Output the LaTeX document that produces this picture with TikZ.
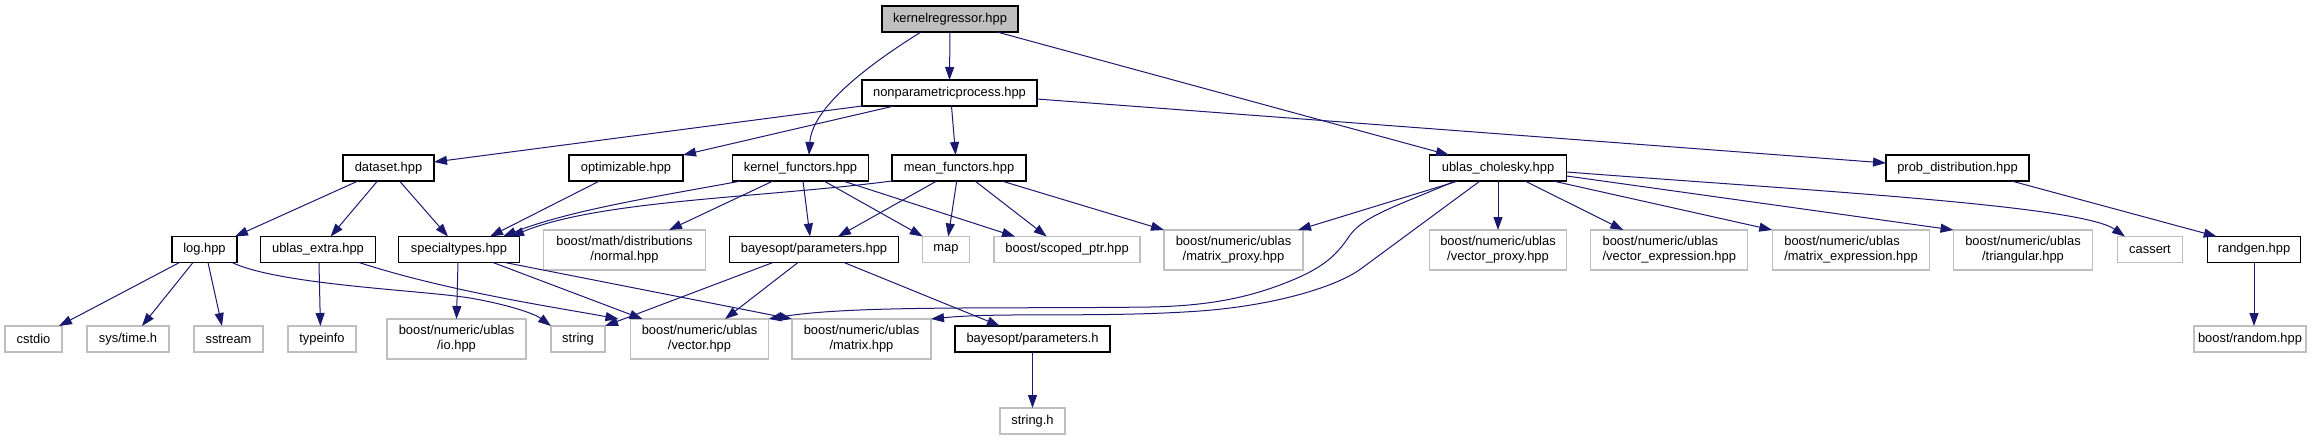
\documentclass[tikz,border=0pt]{standalone}
\usepackage{fontspec}
\setmainfont{Liberation Sans}
\usetikzlibrary{arrows.meta}
\definecolor{edgeblue}{HTML}{191970}
\definecolor{sysgray}{HTML}{BFBFBF}
\begin{document}
\begin{tikzpicture}[x=1pt,y=-1pt,
  font=\fontsize{12.9}{15}\selectfont,
  box/.style={line width=1.15pt, inner sep=0pt, outer sep=0pt, align=center, fill=white, minimum height=26pt},
  doc/.style={box, draw=black},
  sys/.style={box, draw=sysgray},
  root/.style={box, draw=black, fill=sysgray},
  two/.style={minimum height=40pt},
  edge/.style={draw=edgeblue, line width=1pt, -{Triangle[length=13pt,width=9pt]}}]
\useasboundingbox (0,0) rectangle (2323,440);
% row 0-1
\node[root, minimum width=136pt] (kr) at (950,19) {kernelregressor.hpp};
\node[doc, minimum width=175pt] (np) at (949.5,93) {nonparametricprocess.hpp};
% row 2
\node[doc, minimum width=91pt] (dataset) at (388.5,168) {dataset.hpp};
\node[doc, minimum width=114pt] (optim) at (626,168) {optimizable.hpp};
\node[doc, minimum width=135.5pt] (kf) at (800.5,168) {kernel\_functors.hpp};
\node[doc, minimum width=134pt] (mf) at (959,168) {mean\_functors.hpp};
\node[doc, minimum width=137.5pt] (chol) at (1498,168) {ublas\_cholesky.hpp};
\node[doc, minimum width=143pt] (prob) at (1957.5,168) {prob\_distribution.hpp};
% row 3
\node[doc, minimum width=65pt] (log) at (204.5,249.5) {log.hpp};
\node[doc, minimum width=114.5pt] (uext) at (318,249.5) {ublas\_extra.hpp};
\node[doc, minimum width=120.5pt] (spec) at (459,249.5) {specialtypes.hpp};
\node[sys, two, minimum width=162pt] (normal) at (624.5,250) {boost/math/distributions\\/normal.hpp};
\node[doc, minimum width=169pt] (bparam) at (814,249.5) {bayesopt/parameters.hpp};
\node[sys, minimum width=46.5pt] (map) at (946,249.5) {map};
\node[sys, minimum width=146pt] (scoped) at (1067,249.5) {boost/scoped\_ptr.hpp};
\node[sys, two, minimum width=139pt] (mproxy) at (1233.5,250) {boost/numeric/ublas\\/matrix\_proxy.hpp};
\node[sys, two, minimum width=137.5pt] (vproxy) at (1498,250) {boost/numeric/ublas\\/vector\_proxy.hpp};
\node[sys, two, minimum width=157pt, align=left] (vexpr) at (1669.3,250) {boost/numeric/ublas\\/vector\_expression.hpp};
\node[sys, two, minimum width=157.5pt, align=left] (mexpr) at (1851,250) {boost/numeric/ublas\\/matrix\_expression.hpp};
\node[sys, two, minimum width=139pt] (tri) at (2023,250) {boost/numeric/ublas\\/triangular.hpp};
\node[sys, minimum width=65pt] (cassert) at (2150,249.5) {cassert};
\node[doc, minimum width=93.5pt] (randgen) at (2254,249.5) {randgen.hpp};
% row 4
\node[sys, minimum width=57pt] (cstdio) at (33.5,339) {cstdio};
\node[sys, minimum width=82pt] (systime) at (128,339) {sys/time.h};
\node[sys, minimum width=69pt] (sstream) at (228.5,339) {sstream};
\node[sys, minimum width=68pt] (typeinfo) at (322,339) {typeinfo};
\node[sys, two, minimum width=139pt] (io) at (456.5,339) {boost/numeric/ublas\\/io.hpp};
\node[sys, minimum width=54pt] (string) at (578,339) {string};
\node[sys, two, minimum width=138pt] (vector) at (699.5,339) {boost/numeric/ublas\\/vector.hpp};
\node[sys, two, minimum width=139pt] (matrix) at (861.5,339) {boost/numeric/ublas\\/matrix.hpp};
\node[doc, minimum width=155pt] (paramh) at (1032.5,339) {bayesopt/parameters.h};
\node[sys, minimum width=112pt] (random) at (2250,339) {boost/random.hpp};
% row 5
\node[sys, minimum width=65pt] (stringh) at (1032.5,421) {string.h};
% edges
\draw[edge] (kr.south) -- (np.north);
\draw[edge] ([xshift=-29pt]kr.south) .. controls (860,70) and (812,110) .. ([xshift=8.5pt]kf.north);
\draw[edge] ([xshift=47pt]kr.south) -- ([xshift=-49pt]chol.north);
\draw[edge] (np.south west) -- ([yshift=6pt]dataset.east);
\draw[edge] ([xshift=-55.5pt]np.south) -- (optim.north east);
\draw[edge] ([xshift=2pt]np.south) -- ([xshift=-3.4pt]mf.north);
\draw[edge] ([yshift=-6pt]np.east) -- ([yshift=5pt]prob.west);
\draw[edge] ([xshift=-30.5pt]dataset.south) -- ([xshift=-2pt]log.north east);
\draw[edge] ([xshift=-11pt]dataset.south) -- ([xshift=12.6pt]uext.north);
\draw[edge] ([xshift=11pt]dataset.south) -- ([xshift=-11pt]spec.north);
\draw[edge] ([xshift=-26.5pt]optim.south) -- ([xshift=31pt]spec.north);
\draw[edge] ([xshift=-59.5pt]kf.south) .. controls (660,196) and (570,210) .. ([xshift=44pt]spec.north);
\draw[edge] (mf.south west) .. controls (760,198) and (600,200) .. ([xshift=52pt]spec.north);
\draw[edge] ([xshift=-27.5pt]kf.south) -- ([xshift=44.5pt]normal.north);
\draw[edge] ([xshift=2.5pt]kf.south) -- ([xshift=-4pt]bparam.north);
\draw[edge] ([xshift=23.5pt]kf.south) -- (map.north west);
\draw[edge] ([xshift=42.5pt]kf.south) -- ([xshift=-52pt]scoped.north);
\draw[edge] ([xshift=-22.3pt]mf.south) -- ([xshift=24pt]bparam.north);
\draw[edge] ([xshift=-2.3pt]mf.south) -- ([xshift=2.3pt]map.north);
\draw[edge] ([xshift=16pt]mf.south) -- ([xshift=-20.3pt]scoped.north);
\draw[edge] ([xshift=42.7pt]mf.south) -- (mproxy.north west);
\draw[edge] ([xshift=-40pt]chol.south) -- ([xshift=-5pt]mproxy.north east);
\draw[edge] ([xshift=-43pt]chol.south) .. controls (1400,205) and (1365,215) .. (1350,235)
   .. controls (1335,258) and (1320,270) .. (1280,285)
   .. controls (1240,300) and (1200,306) .. (1150,307)
   .. controls (1000,309) and (850,305) .. (vector.north east);
\draw[edge] ([xshift=-18pt]chol.south) -- (1362,268)
   .. controls (1340,285) and (1280,305) .. (1200,311)
   .. controls (1100,318) and (1000,312) .. (matrix.north east);
\draw[edge] (chol.south) -- (vproxy.north);
\draw[edge] ([xshift=27pt]chol.south) -- ([xshift=-46pt]vexpr.north);
\draw[edge] ([xshift=55pt]chol.south) -- (mexpr.north west);
\draw[edge] ([yshift=5pt]chol.south east) -- (tri.north west);
\draw[edge] ([yshift=9pt]chol.south east) .. controls (1800,190) and (2080,205) .. ([xshift=-25pt]cassert.north);
\draw[edge] ([xshift=54pt]prob.south) -- ([xshift=9.5pt]randgen.north west);
\draw[edge] (randgen.south) -- (randgen.south |- random.north);
\draw[edge] ([xshift=-25pt]log.south) -- ([xshift=-3pt]cstdio.north east);
\draw[edge] ([xshift=-11.5pt]log.south) -- ([xshift=14pt]systime.north);
\draw[edge] ([xshift=3.5pt]log.south) -- ([xshift=-6.5pt]sstream.north);
\draw[edge] ([xshift=27.5pt]log.south) .. controls (280,285) and (420,290) .. (470,298)
   .. controls (510,305) and (535,314) .. (string.north west);
\draw[edge] ([xshift=1pt]uext.south) -- ([xshift=-1.6pt]typeinfo.north);
\draw[edge] ([xshift=41pt]uext.south) .. controls (450,292) and (560,308) .. ([xshift=-12pt]vector.north west);
\draw[edge] ([xshift=-1pt]spec.south) -- (io.north);
\draw[edge] ([xshift=34pt]spec.south) -- ([xshift=12pt]vector.north west);
\draw[edge] ([xshift=46pt]spec.south) -- (matrix.north west);
\draw[edge] ([xshift=-41pt]bparam.south) -- (string.north east);
\draw[edge] ([xshift=-16pt]bparam.south) -- ([xshift=25.5pt]vector.north);
\draw[edge] ([xshift=30pt]bparam.south) -- ([xshift=-32.5pt]paramh.north);
\draw[edge] (paramh.south) -- (stringh.north);
\end{tikzpicture}
\end{document}
